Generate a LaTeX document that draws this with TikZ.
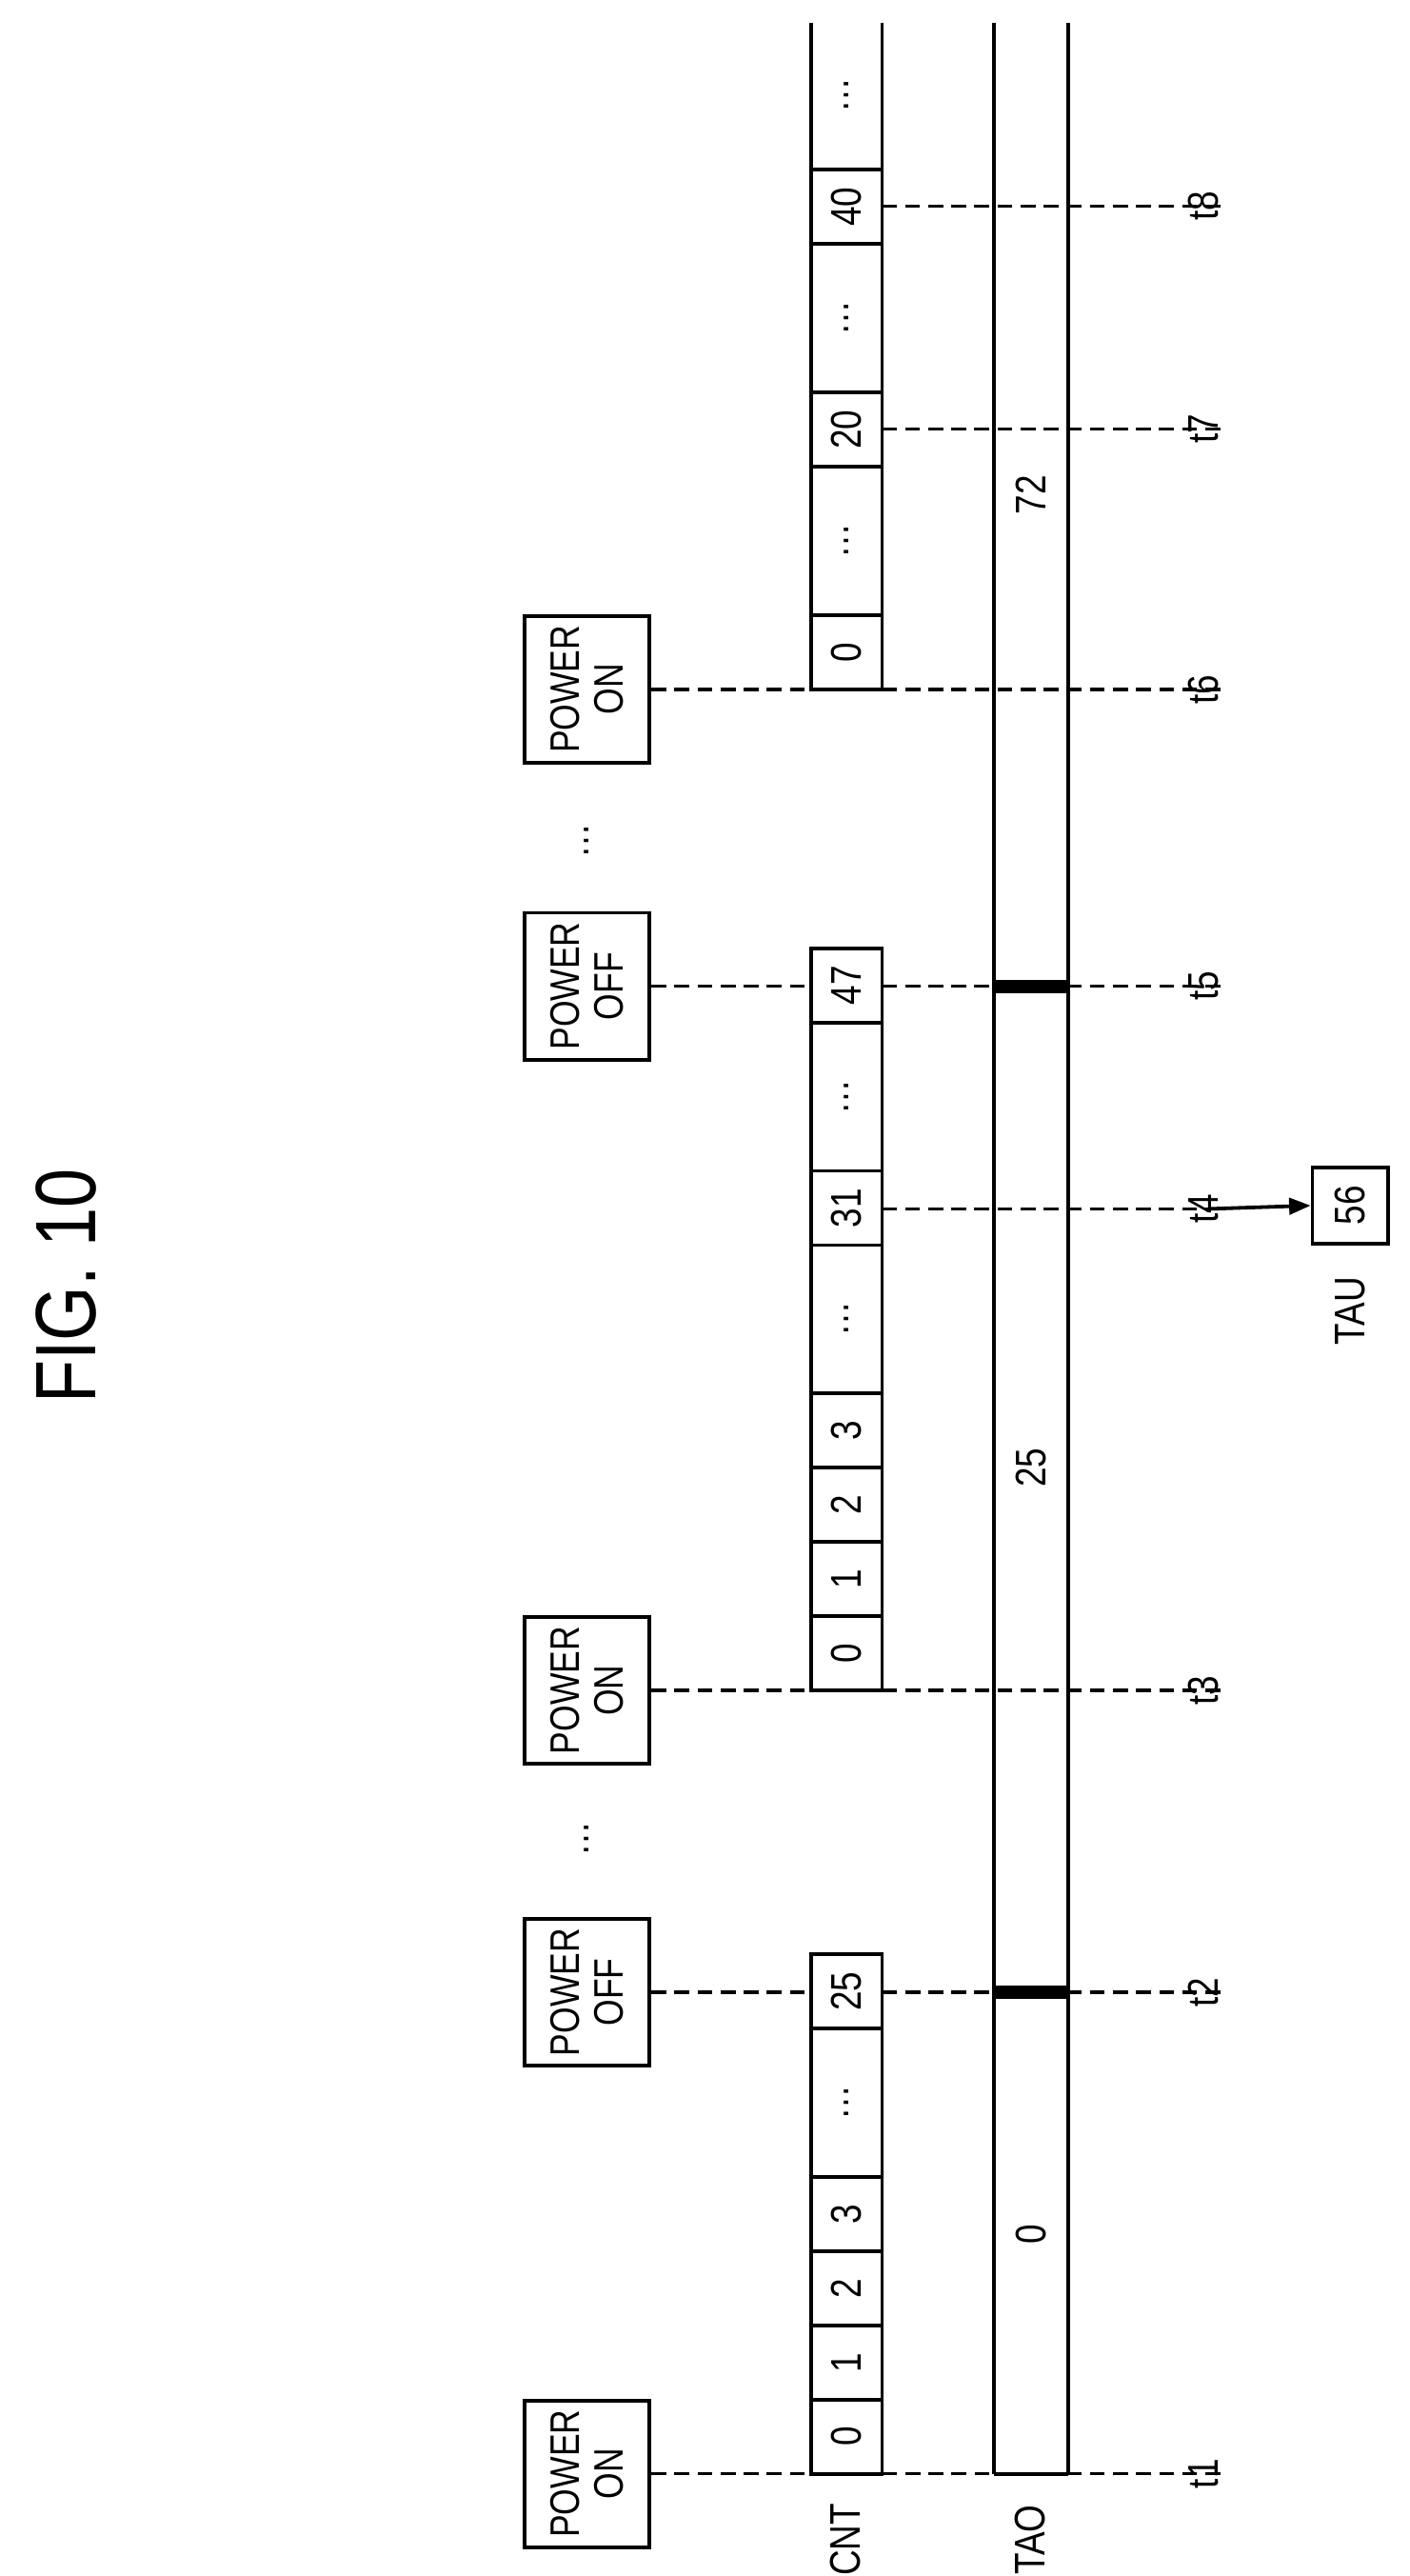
\documentclass[tikz,border=0pt]{standalone}
\usepackage{fontspec}
\setmainfont{Liberation Sans}[FakeStretch=0.82]
\usetikzlibrary{arrows.meta}
\begin{document}
\begin{tikzpicture}[x=1pt,y=-1pt,line width=2.2pt,
  txt/.style={rotate=90,inner sep=0pt,font=\fontsize{26}{28}\selectfont},
  pbox/.style={draw,rotate=90,minimum width=89pt,minimum height=76pt,inner sep=0pt,align=center,font=\fontsize{25}{27}\selectfont},
  dsh/.style={dash pattern=on 9pt off 5pt,line width=2pt}]
\useasboundingbox (0,0) rectangle (855,1562);
\newcommand\cntcell[3]{\draw (492,#1) rectangle (535,#2); \node[txt] at (513.5,{(#1+#2)/2}) {#3};}
% title
\node[txt,font=\fontsize{52}{56}\selectfont] (fig) at (40,780) {FIG. 10};
% TAO bar
\draw (603,1500) -- (603,14);
\draw (648,1500) -- (648,14);
\draw (603,1500) -- (648,1500);
\fill (603,1204) rectangle (648,1212);
\fill (603,594) rectangle (648,602);
\node[txt] (v0) at (625.5,1355) {0};
\node[txt] (v25) at (625.5,890) {25};
\node[txt] (v72) at (625.5,300) {72};
% labels
\node[txt] (cnt) at (513,1540) {CNT};
\node[txt] (tao) at (625,1540) {TAO};
% time labels
\foreach \n/\y in {1/1500,2/1208,3/1025,4/733,5/598,6/418,7/260,8/125}
  \node[txt] (t\n) at (730,\y) {t\n};
% power boxes
\node[pbox] (p1) at (356,1500) {POWER\\ON};
\node[pbox] (p2) at (356,1208) {POWER\\OFF};
\node[pbox] (p3) at (356,1025) {POWER\\ON};
\node[pbox] (p5) at (356,598) {POWER\\OFF};
\node[pbox] (p6) at (356,418) {POWER\\ON};
\node[txt] (d1) at (356,1115) {…};
\node[txt] (d2) at (356,510) {…};
% dashed lines
\draw[dsh] (p1.south) -- (t1.south);
\draw[dsh] (p2.south) -- (t2.south);
\draw[dsh] (p3.south) -- (t3.south);
\draw[dsh] (p5.south) -- (t5.south);
\draw[dsh] (p6.south) -- (t6.south);
\coordinate (c4) at (535,733);
\coordinate (c7) at (535,260);
\coordinate (c8) at (535,125);
\draw[dsh] (c4) -- (t4.south);
\draw[dsh] (c7) -- (t7.south);
\draw[dsh] (c8) -- (t8.south);
% CNT segment 1
\fill[white] (492,1500) rectangle (535,1185);
\cntcell{1500}{1455}{0}
\cntcell{1455}{1410}{1}
\cntcell{1410}{1365}{2}
\cntcell{1365}{1320}{3}
\cntcell{1320}{1230}{…}
\cntcell{1230}{1185}{25}
% CNT segment 2
\fill[white] (492,1025) rectangle (535,575);
\cntcell{1025}{980}{0}
\cntcell{980}{935}{1}
\cntcell{935}{890}{2}
\cntcell{890}{845}{3}
\cntcell{845}{755}{…}
\cntcell{755}{710}{31}
\cntcell{710}{620}{…}
\cntcell{620}{575}{47}
% CNT segment 3
\fill[white] (492,418) rectangle (535,14);
\cntcell{418}{373}{0}
\cntcell{373}{283}{…}
\cntcell{283}{238}{20}
\cntcell{238}{148}{…}
\cntcell{148}{103}{40}
\draw (492,103) -- (492,14);
\draw (535,103) -- (535,14);
\node[txt] at (513.5,58) {…};
% redraw dashes over segment 1 fill edge
\draw[dsh] (535,1208) -- (603,1208);
\draw[dsh] (535,598) -- (603,598);
% TAU
\node[draw,rotate=90,minimum width=46pt,minimum height=46pt,inner sep=0pt,font=\fontsize{26}{28}\selectfont] (tau) at (819,731) {56};
\node[txt] (taul) at (819,795) {TAU};
\draw[-{Triangle[length=13pt,width=10pt]}] (t4.north) ++(14,0) coordinate (a0) -- (tau.north);
\end{tikzpicture}
\end{document}
